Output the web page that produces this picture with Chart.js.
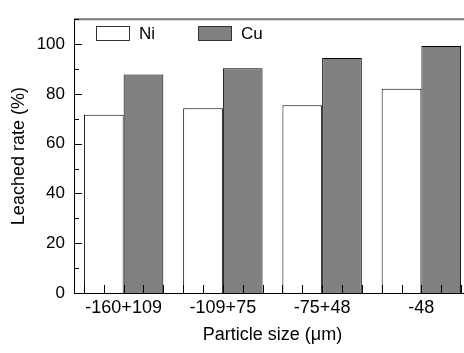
<!DOCTYPE html>
<html>
<head>
<meta charset="utf-8">
<script src="https://cdn.jsdelivr.net/npm/chart.js@4"></script>
<style>
  html, body { margin: 0; padding: 0; background: #fff; overflow: hidden; }
</style>
</head>
<body>
<canvas id="leachChart" width="480" height="353"></canvas>
<script>
const sizes = ['-160+109', '-109+75', '-75+48', '-48'];
const niRate = [71.6, 74.2, 75.4, 82.1];
const cuRate = [87.8, 90.3, 94.4, 99.2];
const yTicks = [0, 20, 40, 60, 80, 100];
const yMinor = [10, 30, 50, 70, 90, 110];

Chart.defaults.font.family = '"Liberation Sans", Arial, sans-serif';
Chart.defaults.font.size = 17;
Chart.defaults.color = '#000';

// ticks pointing inward, top frame line and the legend inside the plot
const frame = {
  id: 'frame',
  afterDatasetsDraw(chart) {
    const { ctx, chartArea: a, scales: { x, y } } = chart;
    ctx.save();
    ctx.strokeStyle = '#777';
    ctx.lineWidth = 2;
    ctx.beginPath();
    ctx.moveTo(a.left, a.top);
    ctx.lineTo(a.right, a.top);
    ctx.stroke();

    ctx.strokeStyle = '#000';
    ctx.lineWidth = 1;
    ctx.beginPath();
    yTicks.forEach(v => {
      const py = Math.round(y.getPixelForValue(v)) + 0.5;
      ctx.moveTo(a.left, py);
      ctx.lineTo(a.left + 8, py);
    });
    yMinor.forEach(v => {
      const py = Math.round(y.getPixelForValue(v)) + 0.5;
      ctx.moveTo(a.left, py);
      ctx.lineTo(a.left + 5, py);
    });
    const w = x.width / sizes.length;
    sizes.forEach((s, i) => {
      const c = x.getPixelForValue(i);
      for (let j = -2; j <= 2; j++) {
        const px = Math.round(c + j * w / 5) + 0.5;
        ctx.moveTo(px, a.bottom);
        ctx.lineTo(px, a.bottom - 8);
      }
    });
    ctx.stroke();

    // legend
    ctx.font = '17px "Liberation Sans", Arial, sans-serif';
    ctx.textBaseline = 'middle';
    chart.data.datasets.forEach((ds, i) => {
      const bx = a.left + 22 + i * 102;
      const by = 26;
      ctx.fillStyle = ds.backgroundColor;
      ctx.fillRect(bx, by, 33, 14);
      ctx.strokeStyle = '#333';
      ctx.strokeRect(bx + 0.5, by + 0.5, 33, 14);
      ctx.fillStyle = '#000';
      ctx.fillText(ds.label, bx + 43, by + 8);
    });
    ctx.restore();
  }
};

new Chart(document.getElementById('leachChart'), {
  type: 'bar',
  data: {
    labels: sizes,
    datasets: [
      { label: 'Ni', data: niRate, backgroundColor: '#ffffff', borderColor: '#000', borderWidth: 1 },
      { label: 'Cu', data: cuRate, backgroundColor: '#808080', borderColor: '#000', borderWidth: 1 }
    ]
  },
  options: {
    responsive: false,
    animation: false,
    layout: { padding: { top: 13, right: 9, left: 0, bottom: 0 } },
    datasets: { bar: { categoryPercentage: 0.8, barPercentage: 1.0 } },
    plugins: { legend: { display: false }, tooltip: { enabled: false } },
    scales: {
      x: {
        grid: { display: false, drawTicks: false },
        border: { color: '#000', width: 1 },
        ticks: { padding: 4, maxRotation: 0, font: { size: 18 } },
        title: { display: true, text: 'Particle size (μm)', font: { size: 18 }, padding: { top: 0, bottom: 7 } },
        afterFit(scale) { scale.height = 60; }
      },
      y: {
        min: 0,
        max: 110,
        grid: { display: false, drawTicks: false },
        border: { color: '#000', width: 1 },
        ticks: { padding: 9 },
        afterBuildTicks(scale) { scale.ticks = yTicks.map(v => ({ value: v })); },
        title: { display: true, text: 'Leached rate (%)', font: { size: 18 }, padding: { top: 8, bottom: 0 } },
        afterFit(scale) { scale.width = 74; }
      }
    }
  },
  plugins: [frame]
});
</script>
</body>
</html>
